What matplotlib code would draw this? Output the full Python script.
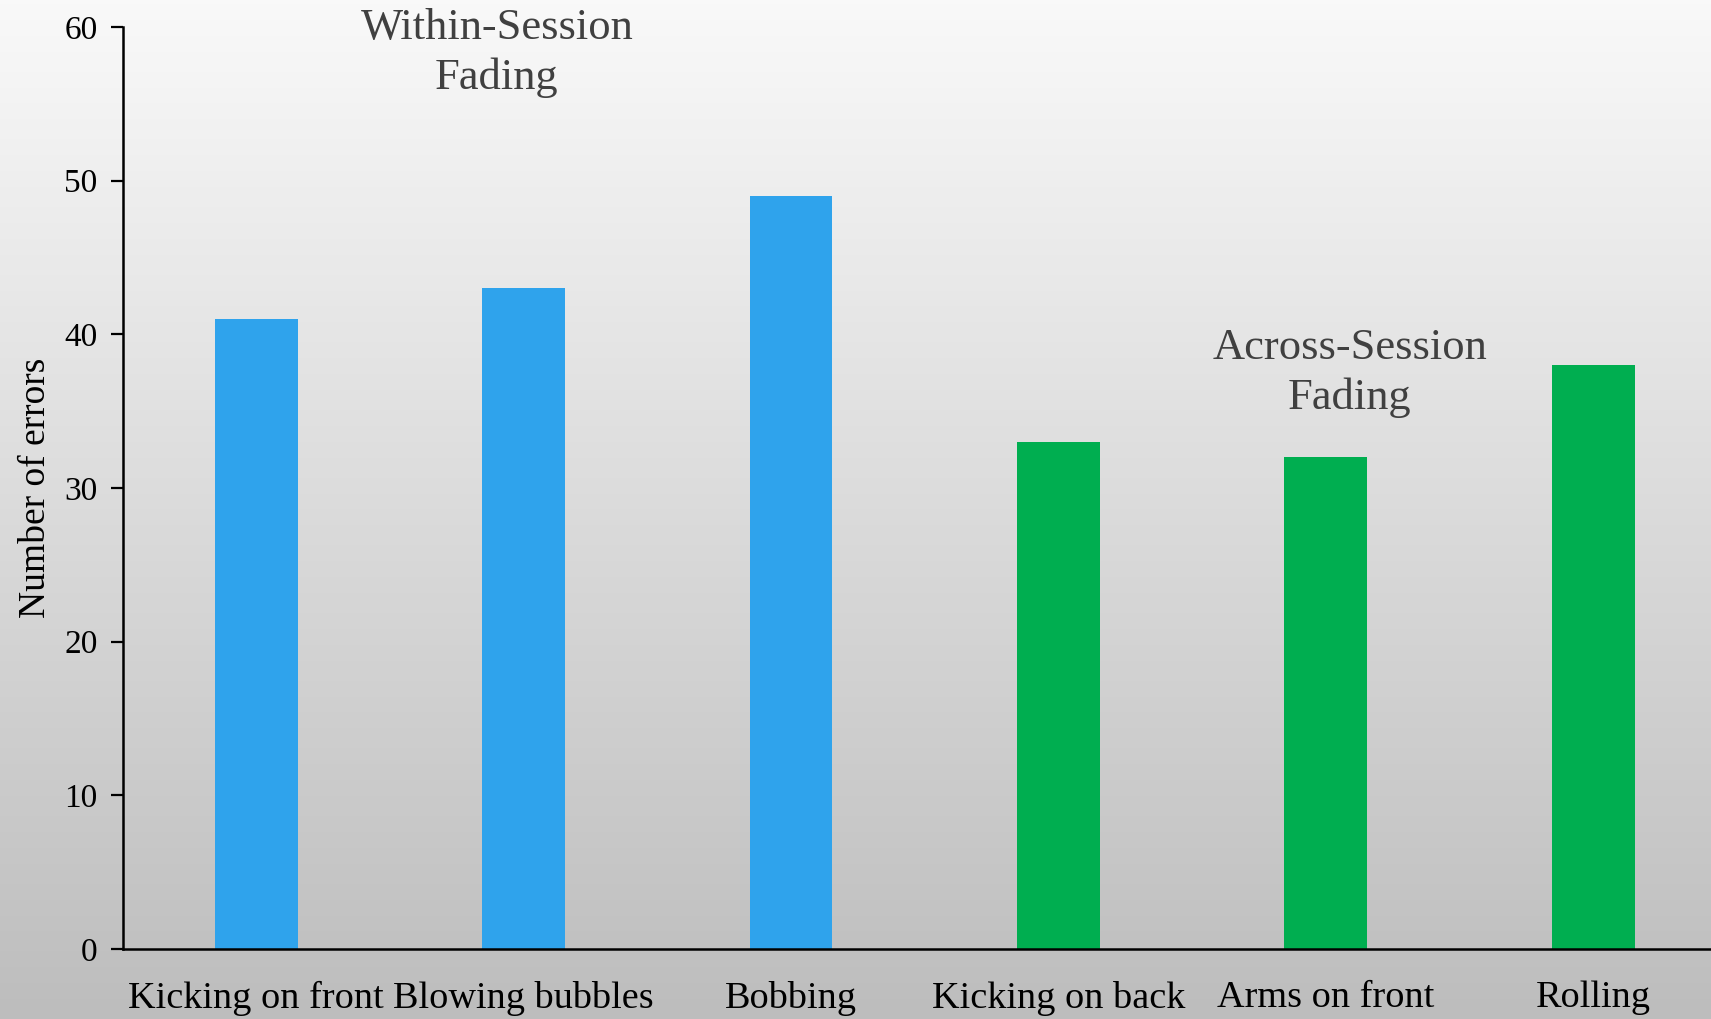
import numpy as np
import matplotlib
matplotlib.use("Agg")
import matplotlib.pyplot as plt
from matplotlib.colors import LinearSegmentedColormap

categories = ["Kicking on front", "Blowing bubbles", "Bobbing",
              "Kicking on back", "Arms on front", "Rolling"]
errors = [41, 43, 49, 33, 32, 38]
groups = ["within", "within", "within", "across", "across", "across"]
yticks = [0, 10, 20, 30, 40, 50, 60]

group_colors = {"within": "#2FA3EC", "across": "#00AE50"}
FONT = ["Liberation Serif", "DejaVu Serif"]

fig = plt.figure(figsize=(17.11, 10.19), dpi=100)

# vertical background gradient, light at top, grey at bottom
bg = fig.add_axes([0, 0, 1, 1], zorder=0)
grad = np.linspace(0, 1, 256).reshape(-1, 1)
cmap = LinearSegmentedColormap.from_list("bg", ["#f9f9f9", "#bdbdbd"])
bg.imshow(grad, aspect="auto", cmap=cmap, extent=[0, 1, 0, 1], origin="upper")
bg.set_axis_off()

ax = fig.add_axes([0.0717, 0.0687, 0.9375, 0.9048], zorder=1)
ax.set_facecolor("none")

x = np.arange(len(categories))
ax.bar(x, errors, width=0.31, color=[group_colors[g] for g in groups],
       edgecolor="none", zorder=2)

ax.set_xlim(-0.5, len(categories) - 0.5)
ax.set_ylim(0, 60)
ax.set_yticks(yticks)
ax.set_yticklabels([str(t) for t in yticks], fontfamily=FONT, fontsize=24)
ax.set_xticks(x)
ax.set_xticklabels(categories, fontfamily=FONT, fontsize=27.5)
ax.tick_params(axis="x", length=0, pad=23)
ax.tick_params(axis="y", direction="out", length=9, width=1.6, pad=9)

for side in ("top", "right"):
    ax.spines[side].set_visible(False)
for side in ("left", "bottom"):
    ax.spines[side].set_linewidth(1.8)
    ax.spines[side].set_color("#000000")

ax.set_ylabel("Number of errors", fontfamily=FONT, fontsize=27, labelpad=8)

ax.text(0.90, 58.3, "Within-Session\nFading", ha="center", va="center",
        fontfamily=FONT, fontsize=32, color="#404040", linespacing=1.3,
        clip_on=False)
ax.text(4.09, 37.5, "Across-Session\nFading", ha="center", va="center",
        fontfamily=FONT, fontsize=32, color="#404040", linespacing=1.3)

fig.savefig("out.png", dpi=100)
